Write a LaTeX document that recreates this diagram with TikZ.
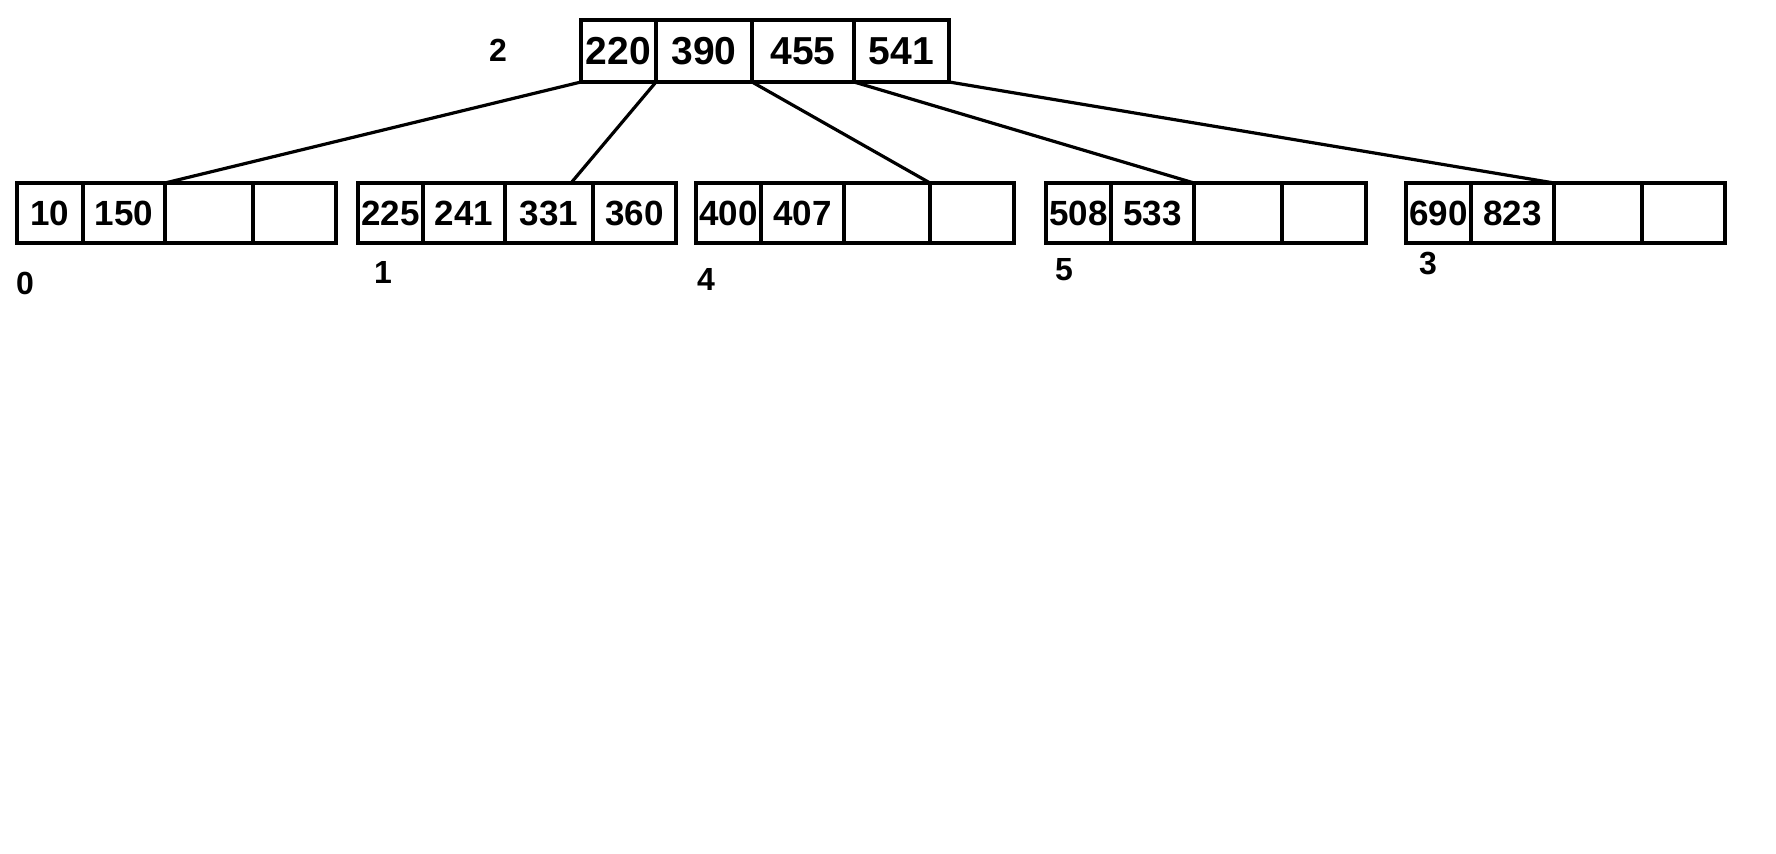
\documentclass[tikz,border=0pt]{standalone}
\usepackage{fontspec}
\setmainfont{Liberation Sans}
\usetikzlibrary{positioning}

\begin{document}
\begin{tikzpicture}[x=0.5pt,y=-0.5pt,line width=1.6pt,
cell/.style={rectangle,draw,inner sep=0pt,outer sep=0pt,minimum height=30pt,
  font=\bfseries\fontsize{17.5}{20}\selectfont},
cellw/.style={minimum width=#1*0.5pt},
rootcell/.style={cell,minimum height=31pt,font=\bfseries\fontsize{19.5}{22}\selectfont},
idx/.style={font=\bfseries\fontsize{16}{18}\selectfont}]
\useasboundingbox (0,0) rectangle (1776,854);
% root
\node[rootcell,cellw=75,anchor=west] (r1) at (581,51) {220};
\node[rootcell,cellw=96,right=0pt of r1] (r2) {390};
\node[rootcell,cellw=102,right=0pt of r2] (r3) {455};
\node[rootcell,cellw=95,right=0pt of r3] (r4) {541};
\node[idx] (l2) at (498,50) {2};
% leaves
\node[cell,cellw=66,anchor=west] (a1) at (17,213) {10};
\node[cell,cellw=82,right=0pt of a1] (a2) {150};
\node[cell,cellw=88,right=0pt of a2] (a3) {};
\node[cell,cellw=83,right=0pt of a3] (a4) {};
\node[idx] (l0) at (25,283) {0};
\node[cell,cellw=65,anchor=west] (b1) at (358,213) {225};
\node[cell,cellw=82,right=0pt of b1] (b2) {241};
\node[cell,cellw=88,right=0pt of b2] (b3) {331};
\node[cell,cellw=83,right=0pt of b3] (b4) {360};
\node[idx] (l1) at (383,272) {1};
\node[cell,cellw=65,anchor=west] (c1) at (696,213) {400};
\node[cell,cellw=83,right=0pt of c1] (c2) {407};
\node[cell,cellw=86,right=0pt of c2] (c3) {};
\node[cell,cellw=84,right=0pt of c3] (c4) {};
\node[idx] (l4) at (706,279) {4};
\node[cell,cellw=65,anchor=west] (d1) at (1046,213) {508};
\node[cell,cellw=83,right=0pt of d1] (d2) {533};
\node[cell,cellw=88,right=0pt of d2] (d3) {};
\node[cell,cellw=84,right=0pt of d3] (d4) {};
\node[idx] (l5) at (1064,270) {5};
\node[cell,cellw=65,anchor=west] (e1) at (1406,213) {690};
\node[cell,cellw=83,right=0pt of e1] (e2) {823};
\node[cell,cellw=88,right=0pt of e2] (e3) {};
\node[cell,cellw=83,right=0pt of e3] (e4) {};
\node[idx] (l3) at (1428,264) {3};
% pointers
\draw (r1.south west) -- (a3.north west);
\draw (r2.south west) -- ([xshift=11pt]b3.north);
\draw (r3.south west) -- (c3.north east);
\draw (r4.south west) -- (d3.north west);
\draw (r4.south east) -- (e3.north west);
\end{tikzpicture}
\end{document}
